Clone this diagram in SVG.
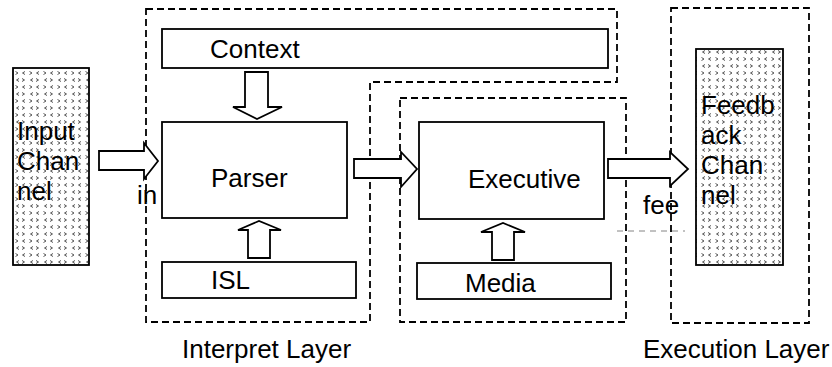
<svg xmlns="http://www.w3.org/2000/svg" width="832" height="367" viewBox="0 0 832 367">
<style>
.box{fill:#fff;stroke:#000;stroke-width:1.8}
.dash{fill:none;stroke:#000;stroke-width:1.8;stroke-dasharray:7 4}
.thin{fill:none;stroke:#666;stroke-width:0.8;stroke-dasharray:6 5}
.arr{fill:#fff;stroke:#000;stroke-width:1.8;stroke-linejoin:miter}
.ch{fill:url(#dots);stroke:#000;stroke-width:1.8}
text{font-family:"Liberation Sans",Arial,sans-serif;font-size:26px;fill:#000}
</style>
<defs>
<pattern id="dots" width="14" height="14" patternUnits="userSpaceOnUse">
<rect width="14" height="14" fill="#fff"/>
<path d="M1.5,1.5 L4,3 L1.5,4.5 M11,1.5 L8.5,3 L11,4.5 M5,8.5 L2.5,10 L5,11.5 M8,8.5 L10.5,10 L8,11.5" fill="none" stroke="#555" stroke-width="1"/>
</pattern>
</defs>
<g id="interpret-layer">
<polygon class="dash" points="146,9 617,9 617,82 370,82 370,322 146,322"/>
<text x="182" y="358">Interpret Layer</text>
</g>
<g id="executive-layer">
<rect class="dash" x="400" y="98" width="226" height="224"/>
</g>
<g id="execution-layer">
<rect class="dash" x="671" y="8" width="138" height="315"/>
<text x="643" y="358">Execution Layer</text>
</g>
<g id="input-channel">
<rect class="ch" x="13" y="68" width="76" height="197"/>
<text x="17" y="140" font-size="25">Input</text>
<text x="17" y="170" font-size="25">Chan</text>
<text x="17" y="200" font-size="25">nel</text>
</g>
<g id="context">
<rect class="box" x="162" y="29" width="446" height="39"/>
<text x="210" y="58">Context</text>
</g>
<g id="parser">
<rect class="box" x="162" y="122" width="185" height="96"/>
<text x="211" y="187">Parser</text>
</g>
<g id="isl">
<rect class="box" x="162" y="262" width="194" height="36"/>
<text x="211" y="289">ISL</text>
</g>
<g id="executive">
<rect class="box" x="419" y="122" width="185" height="97"/>
<text x="468" y="188">Executive</text>
</g>
<g id="media">
<rect class="box" x="417" y="263" width="194" height="36"/>
<text x="465" y="292">Media</text>
</g>
<g id="feedback-channel">
<rect class="ch" x="696" y="49" width="87" height="216"/>
<text x="701" y="114">Feedb</text>
<text x="701" y="144">ack</text>
<text x="701" y="174">Chan</text>
<text x="701" y="204">nel</text>
</g>
<g id="connectors">
<polygon class="arr" points="99,151 144,151 144,143 158,161 144,179 144,170 99,170"/>
<polygon class="arr" points="245,72 268,72 268,107 282,107 257,119 233,107 245,107"/>
<polygon class="arr" points="248,258 270,258 270,230 281,230 259,221 238,230 248,230"/>
<polygon class="arr" points="354,159 401,159 401,152 417,169 401,187 401,178 354,178"/>
<polygon class="arr" points="492,260 514,260 514,232 525,232 503,223 481,232 492,232"/>
<polygon class="arr" points="608,159 670,159 670,152 688,169 670,186 670,178 608,178"/>
<text x="137" y="204" font-size="24">in</text>
<text x="643" y="214" font-size="24">fee</text>
<line class="thin" x1="617" y1="231" x2="685" y2="231"/>
</g>
</svg>
